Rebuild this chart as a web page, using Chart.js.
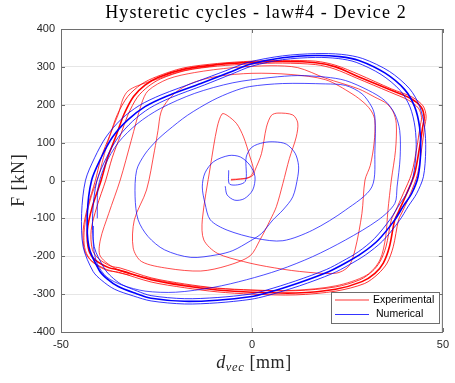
<!DOCTYPE html>
<html>
<head>
<meta charset="utf-8">
<script src="https://cdn.jsdelivr.net/npm/chart.js@4.4.0/dist/chart.umd.min.js"></script>
<style>
  html, body { margin: 0; padding: 0; background: #fff; }
  #wrap { width: 455px; height: 383px; }
</style>
</head>
<body>
<div id="wrap"><canvas id="chart" width="455" height="383"></canvas></div>
<script>
// Hysteresis data, [displacement mm, force kN]

// experimental: first small cycles, two fingers and the ~30 mm loop
const expEarly = [
  [-5.5,3],[-3,4],[-1.5,5],[0.3,14],[0.8,27],[2.5,71],[3.8,141],[5.1,172],[6.8,178],[10.7,173],
  [12,152],[11.6,115],[9.8,58],[8.1,-8],[6.4,-69],[4.8,-104],[2.1,-157],[-0.5,-199],[-6.5,-225],
  [-13.4,-239],[-22,-232],[-28.9,-214],[-31.1,-178],[-30.8,-104],[-27.6,-25],[-25.5,80],[-24.6,132],
  [-23.8,181],[-22,212],[-19,240],[-15,260],[-9,275],[0,283],[10,280],[19.3,266],[26.2,229],
  [29.6,203],[31.4,181],[32.2,158],[32,100],[31,40],[29.6,1],[28.8,-87],[27,-183],[25.3,-227],
  [21.9,-245],[12.4,-240],[3.8,-227],[-2.2,-214],[-9.1,-192],[-12.6,-157],[-13,-104],[-10.9,36],
  [-9.1,141],[-7.8,176],[-6.5,172],[-4,150],[-2.2,115],[-0.5,62],[0.4,27],[-0.5,10],[-3,4],[-5.5,1]
];
// experimental: ~38 mm loop (closed)
const expMid = [
  [-22,268],[-15,285],[-5,298],[5,303],[12,298],[19.3,270],[27.9,242],[32.2,220],[35.3,203],[37,181],
  [37.8,150],[37.6,80],[36.5,1],[35.6,-80],[35,-150],[33.5,-210],[30,-250],[22,-278],[11,-290],
  [0,-290],[-9,-285],[-18,-275],[-27,-258],[-35,-236],[-39.7,-200],[-39.7,-157],[-37.5,-87],
  [-34.5,1],[-31.6,106],[-28.9,203],[-27.2,237]
];
// experimental: full amplitude cycles (centre, outer and inner passes, closed)
const expFullA = [
  [-39.5,0],[-37.8,60],[-35.5,120],[-33.5,175],[-31,222],[-28,252],[-24.6,272],[-17.7,294],[-9.1,306],
  [-0.5,312],[8.1,314],[16.7,311],[21.9,300],[27.9,274],[36.5,238],[41.7,216],[44.3,194],[45.1,167],
  [44.7,141],[43.9,88],[42.6,18],[40.5,-35],[38.5,-80],[37.4,-104],[36,-175],[34.4,-218],[32.2,-245],
  [28.8,-267],[21.9,-287],[11.5,-297],[0,-295],[-9.1,-289],[-17.7,-278],[-26.4,-262],[-35,-236],
  [-37.5,-230],[-41,-210],[-42.7,-184],[-43.1,-131],[-41.8,-69]
];
const expFullB = [
  [-41,0],[-39.5,60],[-37.2,120],[-35.2,175],[-32.5,222],[-29,254],[-25,274],[-18,297],[-9,309],
  [0,315],[8,317],[16.7,315],[22,304],[28,280],[36.5,242],[42,220],[44.8,197],[45.6,170],[45.2,141],
  [44.5,88],[43.4,18],[41.5,-35],[39.5,-80],[38.4,-104],[37,-175],[35.4,-218],[33,-247],[29.5,-272],
  [22,-292],[11.5,-302],[0,-300],[-9.1,-294],[-17.7,-283],[-26.4,-268],[-35,-242],[-38,-237],
  [-41.8,-215],[-43.8,-186],[-44.2,-131],[-43,-69]
];
const expFullC = [
  [-38.3,0],[-36.6,60],[-34.4,120],[-32.4,175],[-30,220],[-27.2,248],[-24,268],[-17.5,290],[-9,302],
  [0,308],[8,310],[16.7,306],[21.5,295],[27.5,270],[36,234],[41,212],[43.6,191],[44.4,166],[44,141],
  [43.2,88],[41.8,18],[39.6,-35],[37.6,-80],[36.5,-104],[35.1,-175],[33.5,-215],[31.5,-240],
  [28.3,-262],[21.9,-281],[11.5,-291],[0,-289],[-9.1,-284],[-17.7,-273],[-26.4,-257],[-34.5,-231],
  [-37,-226],[-40.2,-206],[-41.8,-182],[-42.1,-131],[-40.6,-69]
];
const expOuter = [
  [-32,-250],[-38,-235],[-42,-212],[-43.6,-185],[-44,-150],[-43.5,-100],[-42,-40],[-40.2,10],
  [-38.9,60],[-37.6,106],[-36,150],[-35,175],[-33.8,215],[-32.5,236],[-30,250],[-25,267],[-18,290],[-10,303]
];

// numerical: growing spiral from the origin
const numEarly = [
  [-6.1,27],[-5.8,-10],[-1.8,-3],[-1.5,62],[0,88],[3,100],[6,102],[9,96],[11.3,72],[12.2,40],[12,10],
  [10.7,-43],[8.1,-78],[5.5,-104],[2.5,-140],[-0.5,-160],[-5,-185],[-9.1,-196],[-16,-203],[-22.9,-183],
  [-27.2,-148],[-29.8,-104],[-30.6,-43],[-30.2,27],[-28,70],[-25,105],[-22,132],[-16.9,172],[-10.4,211],
  [-5,235],[-0.6,248],[8,256],[19.3,255],[24.5,251],[28.8,229],[31.4,194],[32.2,167],[32.2,80],
  [31.4,-17],[24.5,-78],[15.9,-131],[8.1,-159],[1.2,-153],[-6.5,-131],[-10.9,-104],[-12.3,-60],
  [-13,-17],[-12.3,20],[-10,50],[-6,66],[-3,62],[-0.5,40],[0.8,10],[0.2,-25],[-2,-48],[-4.5,-52],
  [-6.5,-38],[-7,-15]
];
const numMid = [
  [-40.5,-100],[-40.3,-20],[-38.5,40],[-35,100],[-30,150],[-24,190],[-15,230],[-5,258],[5,272],
  [12,277],[19.3,273],[24.5,264],[30.5,238],[34.8,211],[37.4,176],[38.7,132],[38.8,60],[38,-17],
  [37.4,-61],[33.1,-104],[24.5,-157],[15.9,-201],[7.2,-236],[-1.4,-262],[-10,-282],[-20,-295],
  [-28,-292],[-34,-276],[-38,-255],[-40.5,-220],[-41.5,-175],[-41.5,-120]
];
// numerical: full amplitude cycles (closed)
const numFullA = [
  [-42,0],[-39.5,60],[-36.5,115],[-32.5,160],[-28,195],[-22.5,222],[-13.4,256],[-6,285],[-0.5,307],
  [8,324],[16.7,330],[23,327],[28,317],[34.8,284],[40,240],[42.6,195],[43.9,141],[44.2,80],[43.5,10],
  [41.8,-35],[39.8,-65],[37.4,-104],[33.1,-157],[28.8,-192],[24.5,-218],[20.2,-240],[12,-271],
  [3.8,-297],[-0.5,-307],[-9.1,-316],[-17.7,-319],[-26.4,-311],[-30.5,-298],[-35,-280],[-38,-259],
  [-40,-237],[-42.7,-175],[-43.1,-87]
];
const numFullB = [
  [-43.6,0],[-41.2,60],[-38.2,115],[-34.2,162],[-29.5,198],[-23.8,226],[-14.5,261],[-6.8,290],[-1,312],
  [8,329],[16.7,335],[23.5,333],[29,322],[36,288],[41.3,242],[43.9,196],[45.2,141],[45.5,80],[44.9,10],
  [43.1,-35],[41,-67],[38.6,-106],[34.2,-160],[29.8,-196],[25.4,-223],[21,-246],[12.5,-278],[4,-304],
  [-0.5,-314],[-9.1,-323],[-17.7,-326],[-26.4,-318],[-31,-305],[-36,-287],[-39.3,-264],[-41.6,-240],
  [-44.2,-175],[-44.6,-87]
];
const numFullC = [
  [-40.6,0],[-38.1,60],[-35.1,113],[-31.2,157],[-26.8,191],[-21.4,218],[-12.5,252],[-5.3,281],[0,302],
  [8,319],[16.7,325],[22.6,322],[27.3,312],[33.8,280],[38.8,238],[41.4,194],[42.7,141],[43,80],[42.2,10],
  [40.6,-33],[38.7,-62],[36.3,-101],[32.1,-153],[27.9,-188],[23.7,-213],[19.5,-235],[11.5,-265],
  [3.6,-290],[-0.5,-300],[-9.1,-309],[-17.7,-312],[-26.4,-304],[-30,-292],[-34.2,-274],[-36.8,-254],
  [-38.6,-233],[-41.3,-175],[-41.7,-87]
];

const xTicks = [-50, 0, 50];
const yTicks = [-400, -300, -200, -100, 0, 100, 200, 300, 400];
const seriesNames = ['Experimental', 'Numerical'];
const RED = '#ff0000';
const BLUE = '#0000ff';

function toPoints(arr) {
  return arr.map(p => ({ x: p[0], y: p[1] }));
}

function curve(arr, color, width, order, closed) {
  return {
    data: toPoints(arr),
    showLine: true,
    borderColor: color,
    borderWidth: width,
    pointRadius: 0,
    tension: 0.3,
    fill: false,
    order: order,
    closed: !!closed
  };
}

const datasets = [
  curve(numFullA, BLUE, 1.6, 0, true),
  curve(numFullB, BLUE, 0.8, 0, true),
  curve(numFullC, BLUE, 0.8, 0, true),
  curve(numMid, BLUE, 0.7, 0),
  curve(numEarly, BLUE, 0.7, 0),
  curve(expFullA, RED, 1.6, 1, true),
  curve(expFullB, RED, 0.8, 1, true),
  curve(expFullC, RED, 0.8, 1, true),
  curve(expOuter, RED, 0.7, 1),
  curve(expMid, RED, 0.7, 1, true),
  curve(expEarly, RED, 0.7, 1)
];

// closed cycles are drawn as smooth loops without a seam
const closeLoops = {
  id: 'closeLoops',
  afterDatasetUpdate(chart, args) {
    const ds = chart.data.datasets[args.index];
    if (ds.closed && args.meta.dataset) {
      args.meta.dataset._loop = true;
      args.meta.dataset._fullLoop = true;
    }
  }
};

// axes box, inward ticks, titles and legend box
const decorations = {
  id: 'decorations',
  afterDraw(chart) {
    const ctx = chart.ctx;
    const a = chart.chartArea;
    const xs = chart.scales.x, ys = chart.scales.y;
    ctx.save();

    ctx.strokeStyle = '#6e6e6e';
    ctx.lineWidth = 1;
    ctx.strokeRect(a.left + 0.5, a.top + 0.5, a.right - a.left - 1, a.bottom - a.top);
    ctx.beginPath();
    yTicks.forEach(v => {
      const y = Math.round(ys.getPixelForValue(v)) + 0.5;
      ctx.moveTo(a.left, y); ctx.lineTo(a.left + 4, y);
      ctx.moveTo(a.right, y); ctx.lineTo(a.right - 4, y);
    });
    xTicks.forEach(v => {
      const x = Math.round(xs.getPixelForValue(v)) + 0.5;
      ctx.moveTo(x, a.bottom); ctx.lineTo(x, a.bottom - 4);
      ctx.moveTo(x, a.top); ctx.lineTo(x, a.top + 4);
    });
    ctx.stroke();

    // title
    ctx.fillStyle = '#000';
    ctx.font = '18px "Liberation Serif", serif';
    ctx.letterSpacing = '1.1px';
    ctx.textAlign = 'center';
    ctx.textBaseline = 'alphabetic';
    ctx.fillText('Hysteretic cycles - law#4 - Device 2', 256, 18);

    // y axis title
    ctx.fillStyle = '#262626';
    ctx.letterSpacing = '0.8px';
    ctx.save();
    ctx.translate(24, 180);
    ctx.rotate(-Math.PI / 2);
    ctx.font = '18px "Liberation Serif", serif';
    ctx.fillText('F [kN]', 0, 0);
    ctx.restore();

    // x axis title with subscript
    const big = '18px "Liberation Serif", serif';
    const bigIt = 'italic 18px "Liberation Serif", serif';
    const small = 'italic 12.5px "Liberation Serif", serif';
    ctx.letterSpacing = '0.6px';
    ctx.textAlign = 'left';
    ctx.font = bigIt; const wd = ctx.measureText('d').width;
    ctx.font = small; const wv = ctx.measureText('vec').width;
    ctx.font = big; const wu = ctx.measureText(' [mm]').width;
    let x0 = 254 - (wd + wv + wu) / 2;
    ctx.font = bigIt; ctx.fillText('d', x0, 368); x0 += wd;
    ctx.font = small; ctx.fillText('vec', x0, 371); x0 += wv;
    ctx.font = big; ctx.fillText(' [mm]', x0, 368);
    ctx.letterSpacing = '0px';

    // legend
    const lx = 331, ly = 292, lw = 108, lh = 31;
    ctx.fillStyle = '#fff';
    ctx.fillRect(lx, ly, lw, lh);
    ctx.strokeStyle = '#6e6e6e';
    ctx.strokeRect(lx + 0.5, ly + 0.5, lw, lh);
    const rows = [[seriesNames[0], RED, 300, 373], [seriesNames[1], BLUE, 314.5, 376]];
    ctx.font = '10.5px "Liberation Sans", Arial, sans-serif';
    ctx.textBaseline = 'middle';
    rows.forEach(r => {
      ctx.strokeStyle = r[1];
      ctx.lineWidth = 0.8;
      ctx.beginPath();
      ctx.moveTo(335, r[2]); ctx.lineTo(369, r[2]);
      ctx.stroke();
      ctx.fillStyle = '#000';
      ctx.fillText(r[0], r[3], r[2]);
    });
    ctx.restore();
  }
};

const tickFont = { family: '"Liberation Sans", Arial, sans-serif', size: 11 };

new Chart(document.getElementById('chart'), {
  type: 'scatter',
  data: { datasets: datasets },
  options: {
    responsive: false,
    animation: false,
    devicePixelRatio: 1,
    layout: { padding: { top: 29, right: 7, left: 0, bottom: 0 } },
    plugins: {
      legend: { display: false },
      title: { display: false },
      tooltip: { enabled: false }
    },
    scales: {
      x: {
        type: 'linear',
        min: -50, max: 50,
        afterBuildTicks: s => { s.ticks = xTicks.map(v => ({ value: v })); },
        ticks: { font: tickFont, color: '#262626', padding: 6, maxRotation: 0 },
        grid: { color: '#e6e6e6', drawTicks: false },
        border: { display: false },
        afterFit: s => { s.height = 51; }
      },
      y: {
        type: 'linear',
        min: -400, max: 400,
        afterBuildTicks: s => { s.ticks = yTicks.map(v => ({ value: v })); },
        ticks: { font: tickFont, color: '#262626', padding: 6 },
        grid: { color: '#e6e6e6', drawTicks: false },
        border: { display: false },
        afterFit: s => { s.width = 61; }
      }
    }
  },
  plugins: [closeLoops, decorations]
});
</script>
</body>
</html>
